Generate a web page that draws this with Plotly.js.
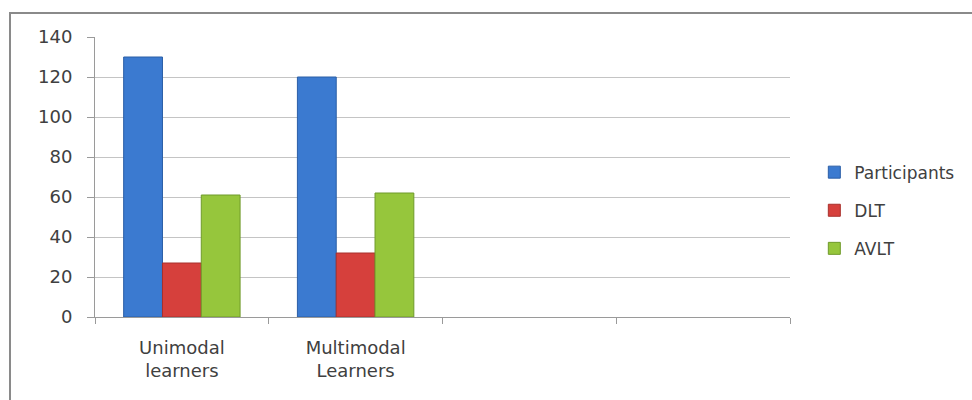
<!DOCTYPE html>
<html>
<head>
<meta charset="utf-8">
<script src="https://cdn.plot.ly/plotly-3.0.1.min.js"></script>
<style>
  html, body { margin: 0; padding: 0; background: #ffffff; }
  #wrap { position: relative; width: 972px; height: 400px; overflow: hidden; }
  #chart { position: absolute; left: 0; top: 0; width: 972px; height: 400px; }
  #frame { position: absolute; left: 9px; top: 12px; width: 980px; height: 400px;
           border-left: 2px solid #8a8a8a; border-top: 2px solid #8a8a8a; pointer-events: none; }
</style>
</head>
<body>
<div id="wrap">
  <div id="chart"></div>
  <div id="frame"></div>
</div>
<script>
// Data
const categories = ["Unimodal<br>learners", "Multimodal<br>Learners", " ", "  "];
const seriesNames = ["Participants", "DLT", "AVLT"];
const participants = [130, 120];
const dlt = [27, 32];
const avlt = [61, 62];
const yTicks = [0, 20, 40, 60, 80, 100, 120, 140];

const colors = ["#3b7ad0", "#d6403c", "#96c63c"];
const edges = ["#2a5ea6", "#a8302c", "#6f9a2a"];
const values = [participants, dlt, avlt];

const dataCats = categories.slice(0, 2);
const traces = seriesNames.map((name, i) => ({
  type: "bar",
  name: name,
  x: dataCats,
  y: values[i],
  legendgroup: "g" + i,
  marker: { color: colors[i], line: { color: edges[i], width: 1 } },
  hoverinfo: "x+y+name"
}));

const fontFam = "DejaVu Sans, Open Sans, sans-serif";
const layout = {
  width: 972,
  height: 400,
  margin: { l: 95, r: 182, t: 37, b: 83, autoexpand: false },
  paper_bgcolor: "#ffffff",
  plot_bgcolor: "#ffffff",
  barmode: "group",
  bargap: 0.33,
  bargroupgap: 0,
  showlegend: true,
  font: { family: fontFam, size: 17, color: "#404040" },
  xaxis: {
    type: "category",
    categoryorder: "array",
    categoryarray: categories,
    range: [-0.5, 3.5],
    tickson: "boundaries",
    ticks: "outside",
    ticklen: 6,
    tickcolor: "#9a9a9a",
    showline: true,
    linecolor: "#9a9a9a",
    linewidth: 1,
    showgrid: false,
    zeroline: false,
    ticklabelstandoff: 14,
    tickfont: { family: fontFam, size: 18, color: "#404040" },
    fixedrange: true
  },
  yaxis: {
    range: [0, 140],
    tickvals: yTicks,
    ticktext: yTicks.map(String),
    ticks: "outside",
    ticklen: 7,
    tickcolor: "#9a9a9a",
    showline: true,
    linecolor: "#9a9a9a",
    linewidth: 1,
    showgrid: true,
    gridcolor: "#c4c4c4",
    gridwidth: 1,
    zeroline: false,
    ticklabelstandoff: 11,
    tickfont: { family: fontFam, size: 18, color: "#404040" },
    fixedrange: true
  },
  legend: {
    x: 1.035,
    xanchor: "left",
    y: 0.38,
    yanchor: "middle",
    traceorder: "grouped",
    tracegroupgap: 13,
    bgcolor: "rgba(0,0,0,0)",
    font: { family: fontFam, size: 17, color: "#404040" },
    itemwidth: 30
  }
};

Plotly.newPlot("chart", traces, layout, { displayModeBar: false, staticPlot: true });
</script>
</body>
</html>
